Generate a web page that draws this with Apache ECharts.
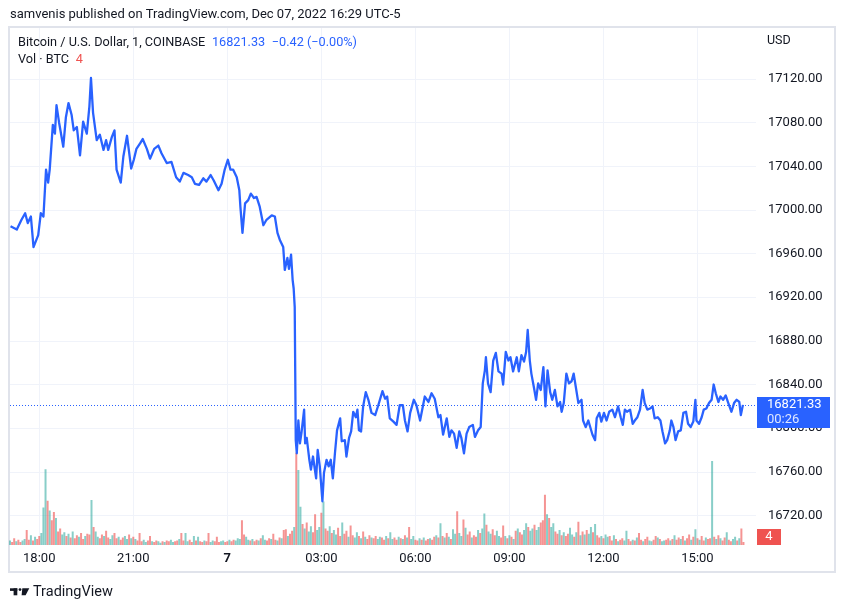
<!DOCTYPE html>
<html><head><meta charset="utf-8">
<script src="https://cdn.jsdelivr.net/npm/echarts@6/dist/echarts.min.js"></script>
<style>html,body{margin:0;padding:0;background:#fff;}#c{width:845px;height:608px;}</style>
</head><body><div id="c"></div>
<script>
// Time of each price reading, minutes since Dec 6 00:00 (UTC-5)
const priceTimes = [
1025,1037,1046,1053,1058,1064,1069,1078,1083,1088,
1093,1097,1100,1106,1110,1113,1118,1126,1131,1136,
1142,1146,1152,1158,1164,1171,1176,1179,1183,1190,
1196,1203,1208,1212,1219,1224,1228,1236,1241,1248,
1256,1261,1266,1273,1278,1286,1292,1300,1308,1314,
1324,1333,1342,1349,1356,1365,1372,1378,1386,1394,
1400,1408,1414,1423,1429,1435,1441,1446,1451,1458,
1463,1465,1469,1474,1480,1485,1491,1496,1502,1509,
1515,1525,1531,1536,1541,
1547,1550,1555,1558,1562,1565,1567,1569,1570,1571,
1573,1576,1579,1582,1587,1589,1592,1597,1600,1604,
1610,1613,1617,1622,1625,1630,1634,1638,1642,1646,
1650,1656,1659,1665,1668,1673,1677,1681,1686,1689,
1692,1696,1700,1705,1710,1716,1723,1729,1737,1742,
1746,1751,1758,1764,1770,1776,1780,1785,1790,1797,
1802,1809,
1818,1825,1831,1837,1844,1848,1853,1860,1865,1869,
1874,1879,1884,1888,1893,1898,1903,1910,1914,1920,
1925,1929,1933,1935,1939,1944,1949,1954,1959,1965,
1968,1973,1978,1982,1987,1994,1998,2003,2008,2012,
2015,2019,2022,2027,2031,2035,2040,2045,2049,2053,
2058,2062,2067,2072,2077,2080,2084,2089,2094,2099,
2103,2107,2112,2118,2121,2126,2131,
2134,2139,2144,2147,2152,2156,2161,2166,2171,2177,
2182,2188,2193,2197,2201,2205,2211,2216,2220,2225,
2230,2235,2239,2244,2249,2254,2258,2264,2269,2273,
2278,2282,2287,2290,2294,2298,2303,2308,2313,2318,
2322,2327,2332,2336,2338,2343,2348,2352,2357,2362,
2367,2371,2375,2380,2384,2389,2394,2399,2402,2405,
2410,2415,2420,2423,2427
];
// BTC/USD price at those times
const prices = [
16985,16982,16991,16997,16988,16994,16966,16977,16997,16994,
17037,17025,17037,17078,17070,17096,17080,17058,17085,17098,
17087,17073,17076,17050,17081,17070,17095,17121,17089,17064,
17069,17055,17064,17055,17067,17073,17037,17025,17049,17068,
17038,17046,17056,17061,17065,17056,17047,17056,17059,17052,
17043,17044,17030,17026,17034,17032,17030,17024,17023,17029,
17026,17032,17027,17018,17024,17037,17046,17037,17037,17030,
17018,17003,16979,17006,17009,17015,17011,17012,17003,16986,
16991,16995,16994,16979,16972,
16966,16945,16956,16946,16959,16936,16928,16911,16851,16789,
16777,16807,16786,16796,16817,16786,16791,16771,16762,16774,
16754,16780,16765,16733,16759,16771,16765,16771,16754,16777,
16798,16809,16788,16789,16774,16791,16797,16815,16810,16817,
16798,16797,16820,16833,16826,16814,16812,16821,16834,16827,
16829,16809,16806,16803,16821,16821,16807,16797,16814,16826,
16821,16807,
16829,16824,16832,16827,16810,16812,16794,16809,16792,16798,
16795,16782,16797,16791,16777,16795,16801,16803,16792,16798,
16801,16841,16853,16865,16841,16833,16862,16869,16852,16850,
16840,16870,16862,16865,16852,16865,16852,16867,16861,16870,
16890,16862,16850,16837,16826,16841,16835,16856,16820,16853,
16833,16826,16835,16820,16824,16815,16823,16850,16841,16843,
16850,16838,16823,16826,16807,16801,16807,
16807,16794,16789,16809,16814,16806,16814,16807,16815,16817,
16810,16820,16810,16803,16817,16815,16817,16804,16807,16810,
16817,16835,16823,16817,16818,16820,16809,16810,16807,16797,
16786,16789,16798,16807,16801,16789,16797,16798,16814,16815,
16804,16801,16806,16826,16807,16804,16810,16817,16818,16823,
16826,16840,16832,16824,16829,16826,16830,16823,16824,16815,
16823,16826,16824,16812,16821.33
];
// Volume (BTC), one reading every 4 minutes from 17:04
const volStart = 1024;
const volStep = 4;
const volumes = [
6,4,9,5,7,4,6,8,20,7,13,6,11,8,12,16,
50,101,59,46,33,44,36,18,22,14,
17,12,15,10,18,9,13,11,16,8,12,15,14,
60,24,
18,11,9,14,12,19,10,8,13,16,9,11,7,10,12,8,14,9,11,8,
6,16,5,7,4,6,12,5,4,6,5,3,5,4,6,5,7,4,5,6,8,16,6,16,5,7,4,12,6,11,5,4,6,5,16,4,6,5,11,4,5,6,4,5,7,
5,7,6,9,8,33,14,11,7,6,8,5,7,6,9,13,7,6,9,8,15,7,6,10,9,20,21,12,15,19,
24,123,100,51,28,22,30,18,25,17,41,20,24,43,58,22,19,25,16,20,
14,23,12,30,15,19,11,26,13,10,17,12,9,18,11,8,13,10,9,12,8,11,10,7,12,9,17,8,10,7,11,9,8,13,10,24,
8,12,7,6,9,7,10,6,8,9,7,11,13,10,
29,12,10,16,11,8,21,15,45,16,12,34,23,14,18,10,13,11,20,16,22,42,27,18,15,21,13,19,12,10,
26,12,9,13,11,8,19,22,17,14,20,29,24,19,22,27,20,24,30,33,67,41,36,24,29,18,15,20,13,17,12,15,23,14,11,17,31,13,18,14,20,15,24,17,28,13,10,12,9,14,11,
12,6,13,8,5,7,9,6,19,8,5,7,6,10,16,7,5,8,11,6,5,7,12,10,8,5,6,7,9,6,8,13,7,10,8,12,6,9,14,7,11,21,9,7,12,6,10,8,9,
112,11,8,13,9,6,10,17,7,5,8,11,6,9,22,4
];
// u = up bar (teal), d = down bar (red)
const volDirs =
"uddudduudd"+"ududduuudu"+"ddudduudud"+"uddudduddu"+"duuddudduu"+
"ddudduudud"+"uddduuddud"+"duududduud"+"dudduuddud"+"uddudduudd"+
"duuddudduu"+"udduududdu"+"duudduddud"+"uddudduduu"+"duduudduud"+
"udduduuddu"+"ddudduudud"+"uddudduudd"+"uduuddudud"+"uduuddudud"+
"duddududud"+"uduuduudud"+"dudduduudu"+"udduuddudu"+"dududduudu"+
"uduudddudu"+"uddududduu"+"dudududuud"+"udduduuddu"+"dudduuddud"+
"uddudduudd"+"uduuddudud"+"dududdudud"+"udduddudud"+"uddudduudu"+"dd";

const xTickValues = [1080,1260,1440,1620,1800,1980,2160,2340];
const yTickValues = [16720,16760,16800,16840,16880,16920,16960,17000,17040,17080,17120];
const xMin = 1024, xMax = 2452;
const yMin = 16692.9, yMax = 17167.7;

const headerText = 'samvenis published on TradingView.com, Dec 07, 2022 16:29 UTC-5';
const symbolText = 'Bitcoin / U.S. Dollar, 1, COINBASE';
const lastPrice = 16821.33;
const changeText = '\u22120.42 (\u22120.00%)';
const volLabel = 'Vol \u00b7 BTC';
const lastVolume = 4;
const countdown = '00:26';

const FONT = 'Roboto, "Noto Sans", sans-serif';
const TXT = '#131722';
const BLUE = '#2962ff';
const RED = '#ef5350';
const GRID = '#f0f3fa';

function fmtTime(v) {
  const m = ((v % 1440) + 1440) % 1440;
  if (m === 0) return '{b|' + (6 + Math.floor(v / 1440)) + '}';
  const h = Math.floor(m / 60), mm = m % 60;
  return String(h).padStart(2, '0') + ':' + String(mm).padStart(2, '0');
}

const chart = echarts.init(document.getElementById('c'), null, {renderer: 'canvas'});
const priceData = priceTimes.map((t, i) => [t, prices[i]]);
const volData = volumes.map((v, i) => [volStart + i * volStep, v]);

const option = {
  animation: false,
  backgroundColor: '#ffffff',
  textStyle: {fontFamily: FONT},
  grid: [
    {left: 10, right: 89, top: 27, bottom: 63},
    {left: 10, right: 89, top: 425, bottom: 63}
  ],
  xAxis: [
    {
      type: 'value', gridIndex: 0, min: xMin, max: xMax,
      axisLine: {show: false},
      axisTick: {show: false, customValues: xTickValues},
      splitLine: {show: true, lineStyle: {color: GRID, width: 1}},
      axisLabel: {
        customValues: xTickValues, color: TXT, fontSize: 13, fontFamily: FONT, margin: 7,
        formatter: fmtTime,
        rich: {b: {fontWeight: 'bold', fontSize: 13, color: TXT, fontFamily: FONT}}
      }
    },
    {type: 'value', gridIndex: 1, min: xMin, max: xMax, show: false}
  ],
  yAxis: [
    {
      type: 'value', gridIndex: 0, position: 'right', min: yMin, max: yMax,
      axisLine: {show: false},
      axisTick: {show: false, customValues: yTickValues},
      splitLine: {show: true, lineStyle: {color: GRID, width: 1}},
      axisLabel: {
        customValues: yTickValues, color: TXT, fontSize: 13, fontFamily: FONT, margin: 12,
        formatter: v => v.toFixed(2)
      }
    },
    {type: 'value', gridIndex: 1, min: 0, max: 160, show: false}
  ],
  series: [
    {
      type: 'bar', xAxisIndex: 1, yAxisIndex: 1, data: volData, barWidth: 2, z: 1,
      itemStyle: {
        color: p => volDirs[p.dataIndex] === 'u' ? 'rgba(38,166,154,0.55)' : 'rgba(239,83,80,0.62)'
      }
    },
    {
      type: 'line', xAxisIndex: 0, yAxisIndex: 0, data: priceData, z: 3,
      showSymbol: false, symbol: 'none',
      lineStyle: {color: BLUE, width: 2.3, join: 'round'},
      markLine: {
        silent: true, symbol: ['none', 'none'], label: {show: false},
        lineStyle: {color: BLUE, type: [1, 2], width: 1},
        data: [{yAxis: lastPrice}]
      }
    }
  ]
};
chart.setOption(option);

const yP = chart.convertToPixel({yAxisIndex: 0}, lastPrice);
let yV = chart.convertToPixel({yAxisIndex: 1}, lastVolume);
yV = Math.min(yV, 545 - 8);
const axisX = 757;

chart.setOption({
  graphic: [
    {type: 'rect', silent: true, z: 0, shape: {x: 9, y: 27, width: 826, height: 545},
      style: {fill: 'none', stroke: '#e0e3eb', lineWidth: 2}},
    {type: 'text', x: 10, y: 15, style: {text: headerText, font: '13px ' + FONT, fill: TXT, textVerticalAlign: 'middle'}},
    {type: 'text', x: 18, y: 43, style: {
      text: '{n|' + symbolText + '}  {v|' + lastPrice.toFixed(2) + '}  {v|' + changeText + '}',
      textVerticalAlign: 'middle',
      rich: {n: {fontSize: 12.7, fontFamily: FONT, fill: TXT}, v: {fontSize: 12.7, fontFamily: FONT, fill: BLUE}}
    }},
    {type: 'text', x: 18, y: 60, style: {
      text: '{n|' + volLabel + '}  {r|' + lastVolume + '}',
      textVerticalAlign: 'middle',
      rich: {n: {fontSize: 12.7, fontFamily: FONT, fill: TXT}, r: {fontSize: 12.7, fontFamily: FONT, fill: RED}}
    }},
    {type: 'text', x: 767, y: 41, style: {text: 'USD', font: '12.5px ' + FONT, fill: TXT, textVerticalAlign: 'middle'}},
    {type: 'rect', z: 10, shape: {x: axisX, y: yP - 8, width: 73, height: 31}, style: {fill: BLUE}},
    {type: 'text', z: 11, x: 767, y: yP, style: {text: lastPrice.toFixed(2), font: '13px ' + FONT, fill: '#ffffff', textVerticalAlign: 'middle'}},
    {type: 'text', z: 11, x: 767, y: yP + 14.5, style: {text: countdown, font: '13px ' + FONT, fill: 'rgba(255,255,255,0.85)', textVerticalAlign: 'middle'}},
    {type: 'rect', z: 10, shape: {x: axisX, y: yV - 8, width: 24, height: 16}, style: {fill: RED}},
    {type: 'text', z: 11, x: axisX + 12, y: yV, style: {text: String(lastVolume), font: '13px ' + FONT, fill: '#ffffff', textAlign: 'center', textVerticalAlign: 'middle'}},
    {type: 'rect', shape: {x: 10, y: 588.3, width: 7.3, height: 2.6}, style: {fill: TXT}},
    {type: 'rect', shape: {x: 13.6, y: 588.3, width: 3.7, height: 7}, style: {fill: TXT}},
    {type: 'circle', shape: {cx: 20, cy: 589.6, r: 1.4}, style: {fill: TXT}},
    {type: 'polygon', shape: {points: [[22.3, 588.3], [29.3, 588.3], [25.6, 595.3], [21.6, 595.3]]}, style: {fill: TXT}},
    {type: 'text', x: 33, y: 592, style: {text: 'TradingView', font: '14.5px ' + FONT, fill: TXT, textVerticalAlign: 'middle'}}
  ]
});
</script>
</body></html>
